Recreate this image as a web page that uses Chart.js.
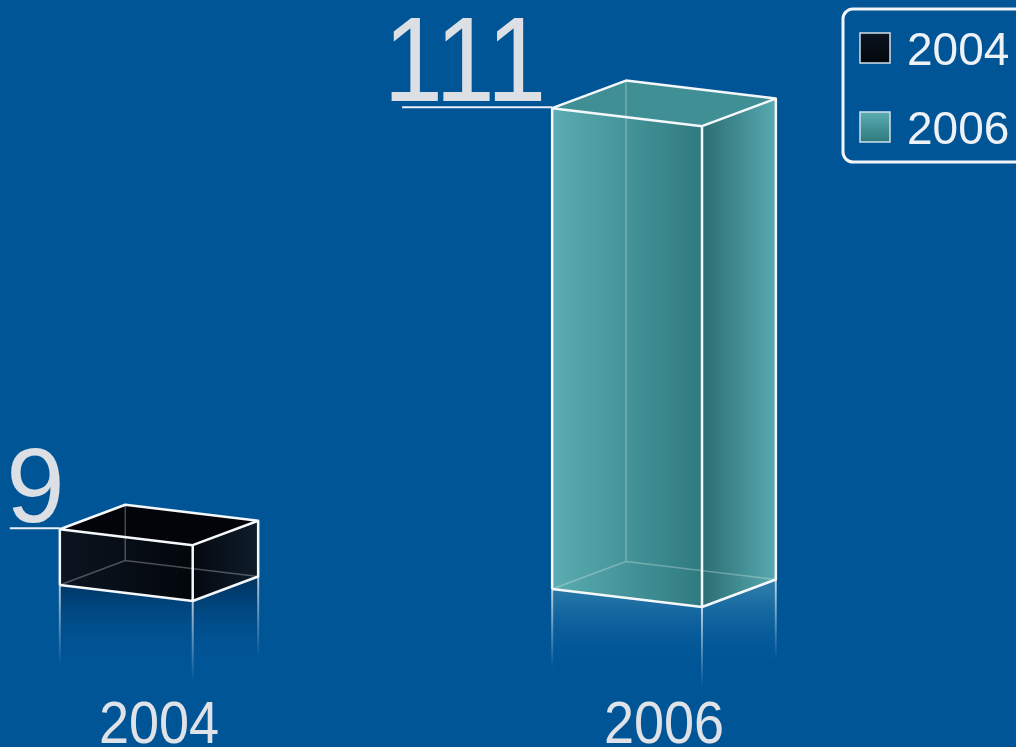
<!DOCTYPE html>
<html lang="en">
  <head>
    <meta charset="UTF-8" />
    <title>2004 vs 2006</title>
    <script src="https://cdn.jsdelivr.net/npm/chart.js"></script>
    <style>
      html, body { margin: 0; padding: 0; background: #005597; }
      #wrap { width: 1016px; height: 747px; position: relative; }
    </style>
  </head>
  <body>
    <div id="wrap"><canvas id="myChart"></canvas></div>
    <script>
      // data
      const categories = ["2004", "2006"];
      const seriesLabels = ["2004", "2006"];
      const values2004 = [9, null];
      const values2006 = [null, 111];

      // look of each box: [front left, front right, side left, side right, top]
      const faces = [
        ["#0b1420", "#03070c", "#04090f", "#0f1c2a", "#020409"],
        ["#5aadb2", "#2f7a7f", "#2a6e73", "#58aab0", "#3f8f95"],
      ];
      const FONT = "'Liberation Sans', Arial, sans-serif";

      const box3d = {
        id: "box3d",
        beforeDraw(chart) {
          const c = chart.ctx;
          c.save();
          c.fillStyle = "#005597";
          c.fillRect(0, 0, chart.width, chart.height);
          c.restore();
        },
        afterDatasetsDraw(chart) {
          const c = chart.ctx;
          const area = chart.chartArea;
          const ys = chart.scales.y;
          chart.data.datasets.forEach((ds, i) => {
            const meta = chart.getDatasetMeta(i);
            const col = faces[i];
            meta.data.forEach((el, j) => {
              const v = ds.data[j];
              if (v == null) return;
              const cx = el.x;
              const ty = el.y;
              const t = (cx - area.left) / (area.right - area.left);
              const by = ys.getPixelForValue(ys.min) + (t - 0.5) * 4;
              const f = 0.94 + 0.12 * t;
              const W = 211 * f, F = W * 0.67, S = 17 * f, R = 26 * f;
              const x0 = cx - W / 2, x1 = x0 + F, x2 = x0 + W, x3 = x0 + (W - F);

              c.save();
              // reflection
              const rh = 80;
              let g = c.createLinearGradient(0, by, 0, by + rh);
              g.addColorStop(0, i ? "rgba(120,190,200,0.35)" : "rgba(0,20,45,0.45)");
              g.addColorStop(1, "rgba(0,85,151,0)");
              c.fillStyle = g;
              c.beginPath();
              c.moveTo(x0, by);
              c.lineTo(x1, by + S);
              c.lineTo(x2, by + S - R);
              c.lineTo(x2, by + S - R + rh);
              c.lineTo(x0, by + rh);
              c.closePath();
              c.fill();
              [[x0, by], [x1, by + S], [x2, by + S - R]].forEach(([px, py]) => {
                const lg = c.createLinearGradient(0, py, 0, py + rh);
                lg.addColorStop(0, "rgba(255,255,255,0.7)");
                lg.addColorStop(1, "rgba(255,255,255,0)");
                c.strokeStyle = lg;
                c.lineWidth = 2;
                c.beginPath();
                c.moveTo(px, py);
                c.lineTo(px, py + rh);
                c.stroke();
              });

              // front face
              g = c.createLinearGradient(x0, 0, x1, 0);
              g.addColorStop(0, col[0]);
              g.addColorStop(1, col[1]);
              c.fillStyle = g;
              c.beginPath();
              c.moveTo(x0, ty);
              c.lineTo(x1, ty + S);
              c.lineTo(x1, by + S);
              c.lineTo(x0, by);
              c.closePath();
              c.fill();
              // side face
              g = c.createLinearGradient(x1, 0, x2, 0);
              g.addColorStop(0, col[2]);
              g.addColorStop(1, col[3]);
              c.fillStyle = g;
              c.beginPath();
              c.moveTo(x1, ty + S);
              c.lineTo(x2, ty + S - R);
              c.lineTo(x2, by + S - R);
              c.lineTo(x1, by + S);
              c.closePath();
              c.fill();
              // top face
              c.fillStyle = col[4];
              c.beginPath();
              c.moveTo(x0, ty);
              c.lineTo(x3, ty - R);
              c.lineTo(x2, ty + S - R);
              c.lineTo(x1, ty + S);
              c.closePath();
              c.fill();

              // hidden edges
              c.strokeStyle = "rgba(255,255,255,0.28)";
              c.lineWidth = 1.5;
              c.beginPath();
              c.moveTo(x3, ty - R);
              c.lineTo(x3, by - R);
              c.lineTo(x0, by);
              c.moveTo(x3, by - R);
              c.lineTo(x2, by + S - R);
              c.stroke();

              // visible edges
              c.strokeStyle = "#f4f8fb";
              c.lineWidth = 2.5;
              c.lineJoin = "round";
              c.beginPath();
              c.moveTo(x0, by);
              c.lineTo(x0, ty);
              c.lineTo(x3, ty - R);
              c.lineTo(x2, ty + S - R);
              c.lineTo(x2, by + S - R);
              c.lineTo(x1, by + S);
              c.lineTo(x0, by);
              c.moveTo(x0, ty);
              c.lineTo(x1, ty + S);
              c.lineTo(x2, ty + S - R);
              c.moveTo(x1, ty + S);
              c.lineTo(x1, by + S);
              c.stroke();

              // value label with leader line
              const txt = String(v);
              const big = txt.length > 1;
              const sx = big ? 0.885 : 1;
              c.font = (big ? 121 : 105) + "px " + FONT;
              const m = c.measureText(txt);
              const ink = (m.actualBoundingBoxLeft + m.actualBoundingBoxRight) * sx;
              const ls = x0 - ink;
              c.strokeStyle = "#e8eef3";
              c.lineWidth = 2;
              c.beginPath();
              c.moveTo(ls, ty - 1);
              c.lineTo(x0, ty - 1);
              c.stroke();
              c.fillStyle = "#dcdfe3";
              c.textAlign = "left";
              c.textBaseline = "alphabetic";
              const inkLeft = ls - ink * 0.07 + (big ? 0 : 4);
              c.translate(inkLeft, ty - 7);
              c.scale(sx, 1);
              c.fillText(txt, m.actualBoundingBoxLeft, 0);
              c.restore();
            });
          });

          // category labels
          const xs = chart.scales.x;
          c.save();
          c.font = "60px " + FONT;
          c.fillStyle = "#dfe3e8";
          c.textAlign = "center";
          c.textBaseline = "alphabetic";
          categories.forEach((lab, k) => {
            c.save();
            c.translate(xs.getPixelForValue(k), 743);
            c.scale(0.9, 1);
            c.fillText(lab, 0, 0);
            c.restore();
          });
          c.restore();

          // legend
          c.save();
          c.strokeStyle = "#f2f6fa";
          c.lineWidth = 3;
          c.beginPath();
          c.roundRect(843, 9, 200, 153, 10);
          c.stroke();
          chart.data.datasets.forEach((ds, i) => {
            const yy = 33 + i * 79;
            const g = c.createLinearGradient(0, yy, 0, yy + 30);
            g.addColorStop(0, faces[i][0]);
            g.addColorStop(1, faces[i][1]);
            c.fillStyle = g;
            c.fillRect(860, yy, 30, 30);
            c.strokeStyle = "#cfe0ea";
            c.lineWidth = 1.5;
            c.strokeRect(860, yy, 30, 30);
            c.fillStyle = "#eef2f6";
            c.font = "46px " + FONT;
            c.textAlign = "left";
            c.textBaseline = "alphabetic";
            c.fillText(ds.label, 907, yy + 32);
          });
          c.restore();
        },
      };

      new Chart(document.getElementById("myChart"), {
        type: "bar",
        data: {
          labels: categories,
          datasets: [
            { label: seriesLabels[0], data: values2004, backgroundColor: "rgba(0,0,0,0)", grouped: false },
            { label: seriesLabels[1], data: values2006, backgroundColor: "rgba(0,0,0,0)", grouped: false },
          ],
        },
        options: {
          responsive: true,
          maintainAspectRatio: false,
          animation: false,
          layout: { padding: { left: 159, right: 352, top: 71, bottom: 160 } },
          plugins: { legend: { display: false }, tooltip: { enabled: false } },
          scales: {
            x: { display: false, offset: false },
            y: { display: false, min: -5, max: 120 },
          },
        },
        plugins: [box3d],
      });
    </script>
  </body>
</html>
